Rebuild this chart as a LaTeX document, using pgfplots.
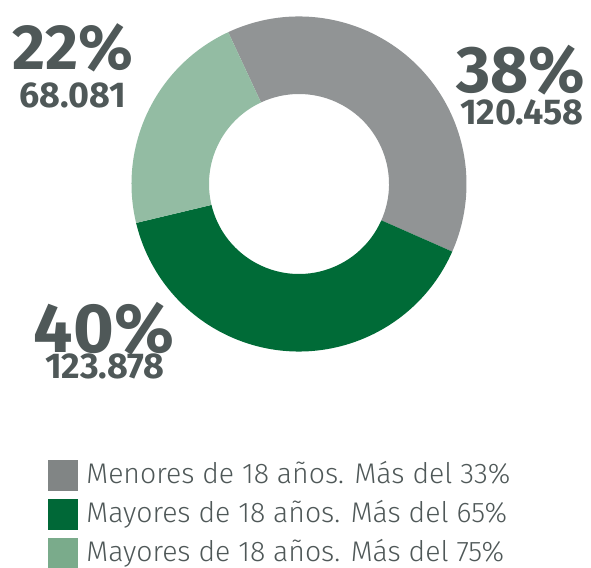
\documentclass[border=0pt]{standalone}
\usepackage{fontspec}
\setmainfont{Fira Sans}
\newfontfamily\lightfont{Fira Sans Light}
\usepackage{pgfplots}
\usepackage{pgfplotstable}
\pgfplotsset{compat=1.18}
\definecolor{cgray}{HTML}{919495}
\definecolor{cdark}{HTML}{006B37}
\definecolor{clight}{HTML}{93BCA3}
\definecolor{lgray}{HTML}{818585}
\definecolor{ldark}{HTML}{006837}
\definecolor{llight}{HTML}{7AAB8B}
\definecolor{txt}{HTML}{4F5858}
% values in thousands
\pgfplotstableread{
name value pct
Menores 120.458 38
Mayores65 123.878 40
Mayores75 68.081 22
}\donut
\begin{document}
\begin{tikzpicture}
\pgfplotstablegetelem{0}{value}\of\donut \let\va\pgfplotsretval
\pgfplotstablegetelem{1}{value}\of\donut \let\vb\pgfplotsretval
\pgfplotstablegetelem{2}{value}\of\donut \let\vc\pgfplotsretval
\pgfmathsetmacro\tot{\va+\vb+\vc}
\pgfmathsetmacro\aA{115}
\pgfmathsetmacro\aB{\aA-360*(\va/\tot)}
\pgfmathsetmacro\aC{\aB-360*(\vb/\tot)}
\pgfmathsetmacro\aD{\aC-360*(\vc/\tot)}
\def\R{167.5bp}\def\r{90bp}
\begin{axis}[
  scale only axis, width=591bp, height=568bp,
  xmin=0, xmax=591, ymin=0, ymax=568,
  hide axis, clip=false,
  legend image code/.code={\fill[#1] (0bp,-17bp) rectangle (29bp,13bp);},
  legend cell align=left,
  legend style={at={(axis cs:48,109)}, anchor=north west, draw=none, fill=none,
    inner sep=0pt, outer sep=0pt, row sep=8bp,
    font=\lightfont\fontsize{28.5}{28.5}\selectfont, text=txt,
    /tikz/every odd column/.style={column sep=7bp}},
]
\coordinate (BL) at (axis cs:0,0);
\coordinate (TR) at (axis cs:591,568);
\addlegendimage{lgray}\addlegendentry{Menores de 18 años. Más del 33\%}
\addlegendimage{ldark}\addlegendentry{Mayores de 18 años. Más del 65\%}
\addlegendimage{llight}\addlegendentry{Mayores de 18 años. Más del 75\%}
\fill[cgray] ([shift={(\aA:\R)}]axis cs:299,384) arc[start angle=\aA, end angle=\aB, radius=\R]
   -- ([shift={(\aB:\r)}]axis cs:299,384) arc[start angle=\aB, end angle=\aA, radius=\r] -- cycle;
\fill[cdark] ([shift={(\aB:\R)}]axis cs:299,384) arc[start angle=\aB, end angle=\aC, radius=\R]
   -- ([shift={(\aC:\r)}]axis cs:299,384) arc[start angle=\aC, end angle=\aB, radius=\r] -- cycle;
\fill[clight] ([shift={(\aC:\R)}]axis cs:299,384) arc[start angle=\aC, end angle=\aD, radius=\R]
   -- ([shift={(\aD:\r)}]axis cs:299,384) arc[start angle=\aD, end angle=\aC, radius=\r] -- cycle;
\node[anchor=base, text=txt, font=\bfseries\fontsize{64}{64}\selectfont] at (axis cs:73,498) {22\%};
\node[anchor=base, text=txt, font=\bfseries\fontsize{36}{36}\selectfont] at (axis cs:73,460) {68.081};
\node[anchor=base, text=txt, font=\bfseries\fontsize{66}{66}\selectfont] at (axis cs:521,475) {38\%};
\node[anchor=base, text=txt, font=\bfseries\fontsize{36}{36}\selectfont] at (axis cs:522,443) {120.458};
\node[anchor=base, text=txt, font=\bfseries\fontsize{70}{70}\selectfont] at (axis cs:104,215) {40\%};
\node[anchor=base, text=txt, font=\bfseries\fontsize{36}{36}\selectfont] at (axis cs:105,189) {123.878};
\end{axis}
\pgfresetboundingbox
\path[use as bounding box] (BL) rectangle (TR);
\end{tikzpicture}
\end{document}
